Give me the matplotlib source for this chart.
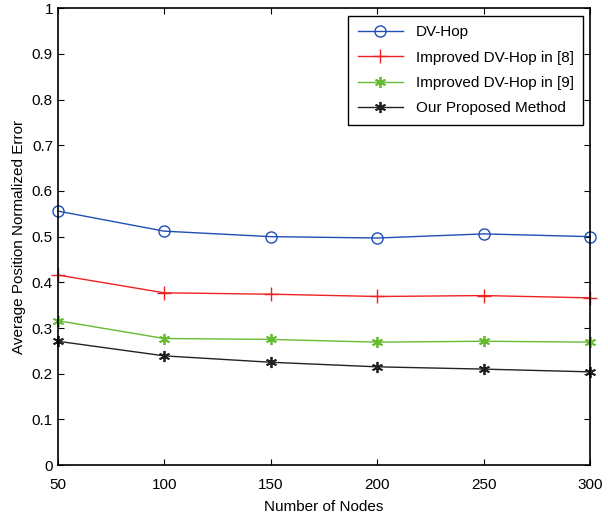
import matplotlib
matplotlib.use("Agg")
import matplotlib.pyplot as plt

plt.rcParams["font.family"] = ["Liberation Sans", "DejaVu Sans"]

nodes = [50, 100, 150, 200, 250, 300]
dv_hop = [0.556, 0.512, 0.500, 0.497, 0.506, 0.500]
improved_8 = [0.416, 0.377, 0.374, 0.369, 0.371, 0.366]
improved_9 = [0.316, 0.277, 0.275, 0.269, 0.271, 0.269]
proposed = [0.271, 0.239, 0.225, 0.215, 0.210, 0.204]
labels = ["DV-Hop", "Improved DV-Hop in [8]", "Improved DV-Hop in [9]", "Our Proposed Method"]

fig = plt.figure(figsize=(6.08, 5.15), dpi=100)
ax = fig.add_axes([0.095, 0.097, 0.876, 0.887])

ax.plot(nodes, dv_hop, color="#1f4fb4", marker="o", markersize=8, markerfacecolor="none", linewidth=1.0, label=labels[0], clip_on=False)
ax.plot(nodes, improved_8, color="#ee2222", marker="+", markersize=10, linewidth=1.0, label=labels[1], clip_on=False)
ax.plot(nodes, improved_9, color="#66bb33", marker=(6, 2, 0), markersize=8, markeredgewidth=1.3, linewidth=1.0, label=labels[2], clip_on=False)
ax.plot(nodes, proposed, color="#222222", marker=(6, 2, 0), markersize=8, markeredgewidth=1.3, linewidth=1.0, label=labels[3], clip_on=False)

ax.set_xlim(50, 300)
ax.set_ylim(0, 1)
ax.set_xticks(nodes)
ax.set_yticks([i / 10 for i in range(11)])
ax.set_yticklabels(["0", "0.1", "0.2", "0.3", "0.4", "0.5", "0.6", "0.7", "0.8", "0.9", "1"])
ax.tick_params(direction="in", labelsize=11, length=4, top=True, right=True)
ax.tick_params(axis="x", pad=9)
for side in ax.spines.values():
    side.set_linewidth(1.2)
ax.set_xlabel("Number of Nodes", fontsize=11, labelpad=6)
ax.set_ylabel("Average Position Normalized Error", fontsize=11)

leg = ax.legend(loc="upper right", fontsize=11, fancybox=False, edgecolor="black", framealpha=1, handlelength=3, borderpad=0.6, labelspacing=0.75)
leg.get_frame().set_linewidth(1.0)

fig.savefig("out.png", dpi=100)
